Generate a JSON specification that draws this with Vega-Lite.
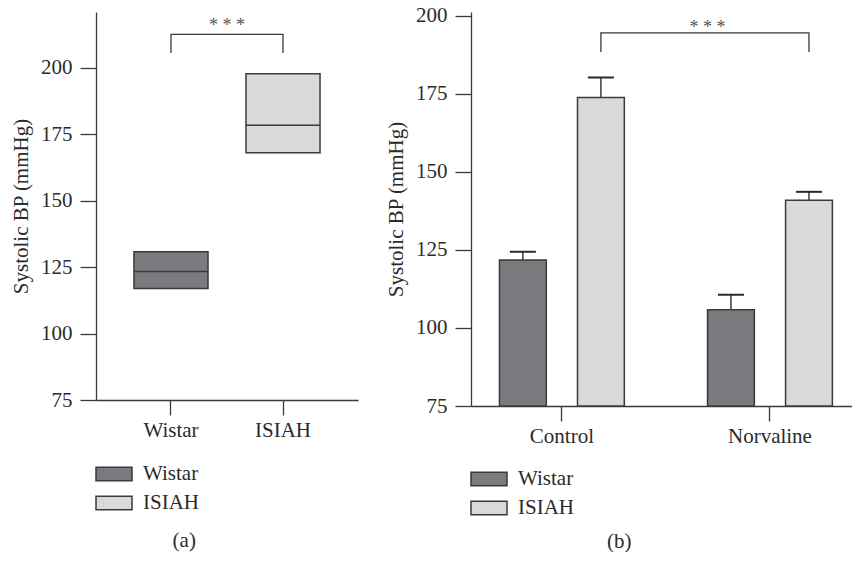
{
  "$schema": "https://vega.github.io/schema/vega-lite/v6.json",
  "padding": {"left": 10, "top": 4, "right": 0, "bottom": 0},
  "spacing": 27,
  "background": "white",
  "config": {
    "font": "Liberation Serif",
    "view": {"stroke": null},
    "axis": {
      "domainColor": "#3a3a3a", "tickColor": "#3a3a3a", "domainWidth": 1.3, "tickWidth": 1.3,
      "labelFont": "Liberation Serif", "labelFontSize": 21, "labelColor": "#2b2b2b",
      "titleFont": "Liberation Serif", "titleFontSize": 21, "titleFontWeight": "normal", "titleColor": "#2b2b2b",
      "grid": false, "tickSize": 15
    },
    "axisY": {"labelPadding": 8, "titlePadding": 9, "tickSize": 16},
    "axisX": {"labelPadding": 4, "labelAngle": 0, "title": null},
    "legend": {
      "orient": "none", "title": null, "padding": 0,
      "symbolType": "M-1,-0.38H1V0.38H-1Z", "symbolSize": 1296,
      "symbolStrokeColor": "#3a3a3a", "symbolStrokeWidth": 1.5, "symbolOpacity": 1,
      "labelFont": "Liberation Serif", "labelFontSize": 21, "labelColor": "#2b2b2b",
      "labelOffset": 10, "rowPadding": -1
    },
    "title": {"font": "Liberation Serif", "fontSize": 21, "fontWeight": "normal", "color": "#2b2b2b"}
  },
  "datasets": {
    "boxes": [
      {"strain": "Wistar", "low": 117, "median": 123.4, "high": 130.8},
      {"strain": "ISIAH", "low": 168, "median": 178.4, "high": 197.8}
    ],
    "sigA": [
      {"strain": "Wistar", "bp": 205.6, "i": 1},
      {"strain": "Wistar", "bp": 212.6, "i": 2},
      {"strain": "ISIAH", "bp": 212.6, "i": 3},
      {"strain": "ISIAH", "bp": 205.6, "i": 4}
    ],
    "starsA": [{"label": "* * *", "bp": 213.8}],
    "bars": [
      {"treatment": "Control", "strain": "Wistar", "mean": 121.8, "upper": 124.4},
      {"treatment": "Control", "strain": "ISIAH", "mean": 173.8, "upper": 180.2},
      {"treatment": "Norvaline", "strain": "Wistar", "mean": 105.8, "upper": 110.6},
      {"treatment": "Norvaline", "strain": "ISIAH", "mean": 140.9, "upper": 143.6}
    ],
    "sigB": [
      {"treatment": "Control", "strain": "ISIAH", "bp": 188.4, "i": 1},
      {"treatment": "Control", "strain": "ISIAH", "bp": 194.5, "i": 2},
      {"treatment": "Norvaline", "strain": "ISIAH", "bp": 194.5, "i": 3},
      {"treatment": "Norvaline", "strain": "ISIAH", "bp": 188.4, "i": 4}
    ],
    "starsB": [{"treatment": "Norvaline", "label": "* * *", "bp": 194.4}]
  },
  "hconcat": [
    {
      "width": 262,
      "height": 388,
      "title": {"text": "(a)", "orient": "bottom", "frame": "bounds", "anchor": "middle", "offset": 17},
      "layer": [
        {
          "data": {"name": "boxes"},
          "mark": {"type": "bar", "stroke": "#3a3a3a", "strokeWidth": 1.5},
          "encoding": {
            "x": {"field": "strain", "type": "nominal", "sort": ["Wistar", "ISIAH"],
                  "scale": {"paddingInner": 0.339, "paddingOuter": 0.339}},
            "y": {"field": "low", "type": "quantitative",
                  "scale": {"domain": [75, 221], "nice": false, "zero": false},
                  "axis": {"title": "Systolic BP (mmHg)", "values": [75, 100, 125, 150, 175, 200]}},
            "y2": {"field": "high"},
            "fill": {"field": "strain", "type": "nominal",
                     "scale": {"domain": ["Wistar", "ISIAH"], "range": ["#7a7b7f", "#d8d9db"]},
                     "legend": {"legendX": -1, "legendY": 443}}
          }
        },
        {
          "data": {"name": "boxes"},
          "mark": {"type": "tick", "color": "#3a3a3a", "thickness": 1.5, "size": 74, "opacity": 1},
          "encoding": {
            "x": {"field": "strain", "type": "nominal", "sort": ["Wistar", "ISIAH"]},
            "y": {"field": "median", "type": "quantitative"}
          }
        },
        {
          "data": {"name": "sigA"},
          "mark": {"type": "line", "color": "#3a3a3a", "strokeWidth": 1.3},
          "encoding": {
            "x": {"field": "strain", "type": "nominal", "sort": ["Wistar", "ISIAH"]},
            "y": {"field": "bp", "type": "quantitative"},
            "order": {"field": "i", "type": "quantitative"}
          }
        },
        {
          "data": {"name": "starsA"},
          "mark": {"type": "text", "fontSize": 18, "color": "#555555", "baseline": "alphabetic", "font": "Liberation Serif"},
          "encoding": {
            "y": {"field": "bp", "type": "quantitative"},
            "text": {"field": "label", "type": "nominal"}
          }
        }
      ]
    },
    {
      "width": 382,
      "height": 394,
      "title": {"text": "(b)", "orient": "bottom", "frame": "bounds", "anchor": "middle", "offset": 13},
      "layer": [
        {
          "data": {"name": "bars"},
          "mark": {"type": "rule", "color": "#3a3a3a", "strokeWidth": 1.5},
          "encoding": {
            "x": {"field": "treatment", "type": "nominal", "sort": ["Control", "Norvaline"],
                  "scale": {"paddingInner": 0.4, "paddingOuter": 0.118, "align": 0.58}},
            "xOffset": {"field": "strain", "type": "nominal", "sort": ["Wistar", "ISIAH"],
                        "scale": {"paddingInner": 0.4, "paddingOuter": 0}},
            "y": {"field": "mean", "type": "quantitative",
                  "scale": {"domain": [75, 201.2], "nice": false, "zero": false},
                  "axis": {"title": "Systolic BP (mmHg)", "values": [75, 100, 125, 150, 175, 200]}},
            "y2": {"field": "upper"}
          }
        },
        {
          "data": {"name": "bars"},
          "mark": {"type": "tick", "color": "#2a2a2a", "thickness": 2, "size": 26, "opacity": 1},
          "encoding": {
            "x": {"field": "treatment", "type": "nominal", "sort": ["Control", "Norvaline"]},
            "xOffset": {"field": "strain", "type": "nominal", "sort": ["Wistar", "ISIAH"]},
            "y": {"field": "upper", "type": "quantitative"}
          }
        },
        {
          "data": {"name": "bars"},
          "mark": {"type": "bar", "stroke": "#3a3a3a", "strokeWidth": 1.5},
          "encoding": {
            "x": {"field": "treatment", "type": "nominal", "sort": ["Control", "Norvaline"]},
            "xOffset": {"field": "strain", "type": "nominal", "sort": ["Wistar", "ISIAH"]},
            "y": {"field": "mean", "type": "quantitative"},
            "y2": {"datum": 75},
            "fill": {"field": "strain", "type": "nominal",
                     "scale": {"domain": ["Wistar", "ISIAH"], "range": ["#7a7b7f", "#d8d9db"]},
                     "legend": {"legendX": -1, "legendY": 448}}
          }
        },
        {
          "data": {"name": "sigB"},
          "mark": {"type": "line", "color": "#3a3a3a", "strokeWidth": 1.3},
          "encoding": {
            "x": {"field": "treatment", "type": "nominal", "sort": ["Control", "Norvaline"]},
            "xOffset": {"field": "strain", "type": "nominal", "sort": ["Wistar", "ISIAH"]},
            "y": {"field": "bp", "type": "quantitative"},
            "order": {"field": "i", "type": "quantitative"}
          }
        },
        {
          "data": {"name": "starsB"},
          "mark": {"type": "text", "fontSize": 18, "color": "#555555", "baseline": "alphabetic", "font": "Liberation Serif"},
          "encoding": {
            "x": {"field": "treatment", "type": "nominal", "sort": ["Control", "Norvaline"], "bandPosition": 0},
            "y": {"field": "bp", "type": "quantitative"},
            "text": {"field": "label", "type": "nominal"}
          }
        }
      ]
    }
  ],
  "resolve": {"scale": {"x": "independent", "y": "independent", "fill": "independent", "xOffset": "independent"}}
}
